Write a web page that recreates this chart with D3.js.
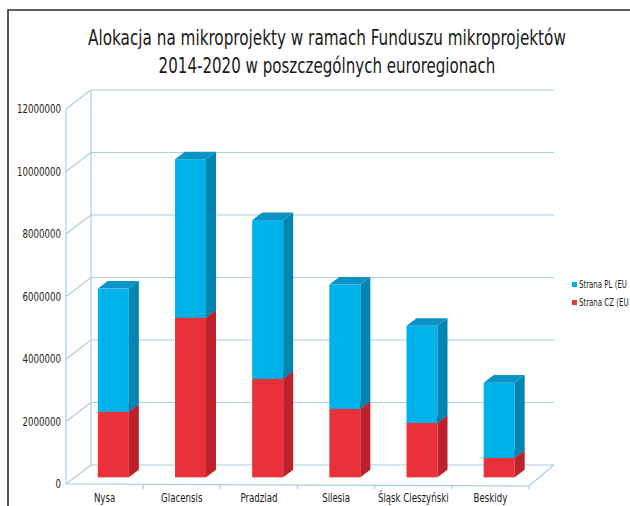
<!DOCTYPE html>
<html>
<head>
<meta charset="utf-8">
<script src="https://cdn.jsdelivr.net/npm/d3@7"></script>
<style>
  body { margin: 0; background: #fff; }
  svg { display: block; }
  text { font-family: "DejaVu Sans Condensed", "Liberation Sans Narrow", sans-serif; fill: #1a1a1a; }
</style>
</head>
<body>
<svg id="chart" width="630" height="506"></svg>
<script>
// Values (EUR)
const categories = ['Nysa', 'Glacensis', 'Pradziad', 'Silesia', 'Śląsk Cieszyński', 'Beskidy'];
const czValues = [2100000, 5110000, 3150000, 2190000, 1740000, 620000];
const plValues = [3940000, 5070000, 5080000, 3980000, 3110000, 2410000];
const yTicks = [0, 2000000, 4000000, 6000000, 8000000, 10000000, 12000000];
const seriesNames = ['Strana PL (EU', 'Strana CZ (EU'];
const titleLines = ['Alokacja na mikroprojekty w ramach Funduszu mikroprojektów',
                    '2014-2020 w poszczególnych euroregionach'];

const conf = {
  left: 66, right: 529,   // front edge of the floor
  yTop: 109, yBottom: 484,
  depthX: 25, depthY: -19, // full depth of the 3d box
  barFront: 0.35, barBack: 0.75,
  barWidth: 31,
  squeeze: 0.8            // the source font is narrower than DejaVu Condensed
};

const colors = {
  pl: { front: '#00b2ea', side: '#0385b1', top: '#0a93c4' },
  cz: { front: '#e8313a', side: '#be2129', top: '#cf2a31' },
  grid: '#a9cfe2'
};

const svg = d3.select('#chart');

// put a horizontally squeezed text at (x, y)
function label(parent, str, px, py, size, anchor, sx) {
  return parent.append('text')
    .attr('transform', `translate(${px},${py}) scale(${sx},1)`)
    .attr('text-anchor', anchor)
    .attr('font-size', size)
    .text(str);
}

// frame round the picture
svg.append('path')
  .attr('d', 'M8,506V10H630')
  .attr('fill', 'none')
  .attr('stroke', '#2e2e2e')
  .attr('stroke-width', 1.6);

// title, squeezed to the widths seen in the reference
const titleWidths = [478, 337];
const titleG = svg.append('g');
titleLines.forEach((line, i) => {
  const t = label(titleG, line, 327, 45 + i * 28, 22, 'middle', 1);
  const len = t.node().getComputedTextLength();
  t.attr('transform', `translate(327,${45 + i * 28}) scale(${titleWidths[i] / len},1)`);
});

const y = d3.scaleLinear()
  .domain([0, 12000000])
  .range([conf.yBottom, conf.yTop]);

const x = d3.scaleBand()
  .domain(categories)
  .range([conf.left, conf.right]);

const DX = conf.depthX, DY = conf.depthY;
const grid = svg.append('g')
  .attr('stroke', colors.grid)
  .attr('stroke-width', 1.2)
  .attr('fill', 'none');

// back wall gridlines and the diagonals to the front axis
yTicks.forEach(t => {
  grid.append('line')
    .attr('x1', conf.left + DX).attr('x2', conf.right + DX)
    .attr('y1', y(t) + DY).attr('y2', y(t) + DY);
  grid.append('line')
    .attr('x1', conf.left).attr('x2', conf.left + DX)
    .attr('y1', y(t)).attr('y2', y(t) + DY);
});
grid.append('line')
  .attr('x1', conf.left + DX).attr('x2', conf.left + DX)
  .attr('y1', y(12000000) + DY).attr('y2', y(0) + DY);
// floor right edge
grid.append('line')
  .attr('x1', conf.right).attr('x2', conf.right + DX)
  .attr('y1', y(0) + 2).attr('y2', y(0) + DY);
// front y axis
grid.append('line')
  .attr('x1', conf.left).attr('x2', conf.left)
  .attr('y1', y(12000000)).attr('y2', y(0));
// front x axis + ticks
grid.append('line')
  .attr('x1', conf.left).attr('x2', conf.right)
  .attr('y1', y(0)).attr('y2', y(0) + 2);
categories.forEach(c => {
  const tx = x(c) + x.bandwidth();
  grid.append('line')
    .attr('x1', tx).attr('x2', tx)
    .attr('y1', y(0) + 1).attr('y2', y(0) + 5);
});

// y tick labels
const yLab = svg.append('g');
yTicks.forEach(t => label(yLab, String(t), 61, y(t) + 4, 12, 'end', conf.squeeze));

// x labels
const xLab = svg.append('g');
categories.forEach(c => label(xLab, c, x(c) + x.bandwidth() / 2, 502, 12, 'middle', conf.squeeze));

// stacked 3d bars: CZ below, PL on top
const fx = DX * conf.barFront, fy = DY * conf.barFront;
const ddx = DX * (conf.barBack - conf.barFront), ddy = DY * (conf.barBack - conf.barFront);

const segments = [];
categories.forEach((c, i) => {
  segments.push({ cat: c, v0: 0, v1: czValues[i], col: colors.cz });
  segments.push({ cat: c, v0: czValues[i], v1: czValues[i] + plValues[i], col: colors.pl });
});

const bars = svg.append('g');
segments.forEach(s => {
  const x0 = x(s.cat) + x.bandwidth() / 2 - conf.barWidth / 2 + fx;
  const x1 = x0 + conf.barWidth;
  const yt = y(s.v1) + fy, yb = y(s.v0) + fy;
  const g = bars.append('g');
  g.append('rect')
    .attr('x', x0).attr('y', yt)
    .attr('width', conf.barWidth).attr('height', yb - yt)
    .attr('fill', s.col.front);
  g.append('polygon')
    .attr('points', [[x1, yt], [x1 + ddx, yt + ddy], [x1 + ddx, yb + ddy], [x1, yb]].join(' '))
    .attr('fill', s.col.side);
  g.append('polygon')
    .attr('points', [[x0, yt], [x0 + ddx, yt + ddy], [x1 + ddx, yt + ddy], [x1, yt]].join(' '))
    .attr('fill', s.col.top);
});

// legend
const legend = svg.append('g');
const legendColors = [colors.pl.front, colors.cz.front];
seriesNames.forEach((name, i) => {
  legend.append('rect')
    .attr('x', 572).attr('y', 282 + i * 18)
    .attr('width', 5).attr('height', 5)
    .attr('fill', legendColors[i]);
  label(legend, name, 579, 288 + i * 18, 10, 'start', 0.78);
});
</script>
</body>
</html>
